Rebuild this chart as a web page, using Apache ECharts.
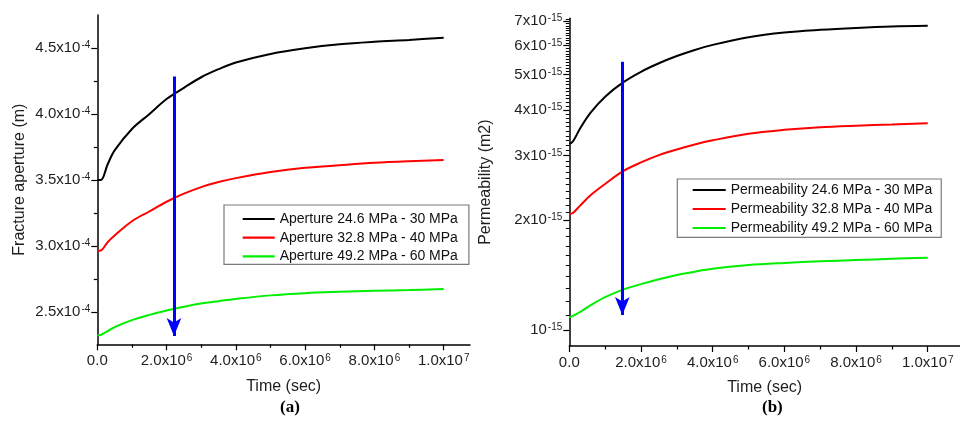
<!DOCTYPE html>
<html>
<head>
<meta charset="utf-8">
<script src="https://cdn.jsdelivr.net/npm/echarts@6/dist/echarts.min.js"></script>
<style>
  html, body { margin: 0; padding: 0; background: #ffffff; }
  #chart { width: 960px; height: 422px; }
</style>
</head>
<body>
<div id="chart"></div>
<script>
// ---- (a) Fracture aperture vs time ----
// time in units of 10^6 s, aperture in units of 10^-4 m
const timeA = [0, 0.1, 0.3, 0.5, 1, 1.5, 2, 2.5, 3, 3.5, 4, 5, 6, 7, 8, 9, 10];
const aperture30 = [3.500, 3.500, 3.620, 3.725, 3.888, 4.000, 4.115, 4.200, 4.280, 4.341, 4.392, 4.457, 4.500, 4.530, 4.549, 4.563, 4.580];
const aperture40 = [2.964, 2.966, 3.030, 3.080, 3.188, 3.262, 3.336, 3.397, 3.447, 3.485, 3.515, 3.561, 3.593, 3.613, 3.631, 3.643, 3.652];
const aperture60 = [2.323, 2.326, 2.355, 2.385, 2.438, 2.478, 2.512, 2.540, 2.564, 2.582, 2.599, 2.626, 2.643, 2.653, 2.661, 2.666, 2.674];
const apertureNames = ['Aperture 24.6 MPa - 30 MPa', 'Aperture 32.8 MPa - 40 MPa', 'Aperture 49.2 MPa - 60 MPa'];

// ---- (b) Permeability vs time ----
// time in units of 10^6 s, permeability in units of 10^-15 m2
const timeB = [0, 0.1, 0.3, 0.6, 1, 1.5, 2, 2.5, 3, 3.5, 4, 5, 6, 7, 8, 9, 10];
const perm30 = [3.23, 3.28, 3.56, 3.94, 4.35, 4.76, 5.09, 5.37, 5.62, 5.84, 6.03, 6.33, 6.52, 6.63, 6.71, 6.77, 6.80];
const perm40 = [2.078, 2.090, 2.190, 2.340, 2.510, 2.720, 2.875, 3.010, 3.120, 3.220, 3.305, 3.445, 3.530, 3.590, 3.625, 3.652, 3.680];
const perm60 = [1.083, 1.093, 1.120, 1.170, 1.230, 1.290, 1.335, 1.377, 1.414, 1.444, 1.470, 1.506, 1.526, 1.541, 1.554, 1.566, 1.577];
const permNames = ['Permeability 24.6 MPa - 30 MPa', 'Permeability 32.8 MPa - 40 MPa', 'Permeability 49.2 MPa - 60 MPa'];

// ---- axis ticks ----
const timeTicks = [0, 2e6, 4e6, 6e6, 8e6, 1e7];
const timeMinorTicks = [1e6, 3e6, 5e6, 7e6, 9e6];
const apertureTicks = [2.5e-4, 3.0e-4, 3.5e-4, 4.0e-4, 4.5e-4];
const apertureMinorTicks = [2.75e-4, 3.25e-4, 3.75e-4, 4.25e-4];
const permTicks = [1e-15, 2e-15, 3e-15, 4e-15, 5e-15, 6e-15, 7e-15];
const permMinorTicks = [];
for (let k = 11; k <= 71; k++) {
  if (k % 10 !== 0) permMinorTicks.push(k / 10 * 1e-15);
}

// "pressure drop" arrows: [time, start value, end value]
const arrowA = [2.214e6, 4.285e-4, 2.318e-4];
const arrowB = [1.479e6, 5.42e-15, 1.099e-15];

const lineColors = ['#000000', '#ff0000', '#00ee00'];
const FONT = "'Liberation Sans', Arial, sans-serif";
const TEXT = '#1e1e1e';

function toPairs(times, vals, scale) {
  return times.map((t, i) => [t * 1e6, vals[i] * scale]);
}

const supX = { fontSize: 10, lineHeight: 10, verticalAlign: 'top', padding: [0, 0, 10, 1], color: TEXT, fontFamily: FONT };
const mainX = { fontSize: 15, lineHeight: 15, verticalAlign: 'bottom', color: TEXT, fontFamily: FONT };
const supY = { fontSize: 10, lineHeight: 10, verticalAlign: 'top', padding: [0, 0, 0, 1], color: TEXT, fontFamily: FONT };
const mainY = { fontSize: 15, lineHeight: 15, color: TEXT, fontFamily: FONT };

function timeLabel(v) {
  if (v === 0) return '{m|0.0}';
  const e = Math.floor(Math.log10(v) + 1e-9);
  const m = v / Math.pow(10, e);
  return '{m|' + m.toFixed(1) + 'x10}{s|' + e + '}';
}
function apertureLabel(v) {
  return '{m|' + (v / 1e-4).toFixed(1) + 'x10}{s|-4}';
}
function permLabel(v) {
  const m = Math.round(v / 1e-15);
  return m === 1 ? '{m|10}{s|-15}' : '{m|' + m + 'x10}{s|-15}';
}

const axisLineStyle = { color: '#000', width: 1.5 };

function mainXAxis(grid, max) {
  return {
    type: 'value', gridIndex: grid, min: 0, max: max,
    name: 'Time (sec)', nameLocation: 'middle', nameGap: 34,
    nameTextStyle: { fontFamily: FONT, fontSize: 16, color: TEXT },
    axisLine: { show: true, onZero: false, lineStyle: axisLineStyle },
    axisTick: { show: true, length: 6, customValues: timeTicks, lineStyle: { color: '#000', width: 1.2 } },
    axisLabel: { customValues: timeTicks, margin: 9, formatter: timeLabel, fontFamily: FONT, fontSize: 15, color: TEXT,
                 rich: { m: mainX, s: supX } },
    splitLine: { show: false }
  };
}
function minorXAxis(grid, max) {
  return {
    type: 'value', gridIndex: grid, min: 0, max: max, position: 'bottom',
    axisLine: { show: false },
    axisTick: { show: true, length: 3.5, customValues: timeMinorTicks, lineStyle: { color: '#000', width: 1.2 } },
    axisLabel: { show: false }, splitLine: { show: false }
  };
}

const option = {
  animation: false,
  backgroundColor: '#ffffff',
  title: [
    { text: '(a)', left: 280, top: 399, padding: 0,
      textStyle: { fontFamily: "'Liberation Serif', 'Times New Roman', serif", fontWeight: 'bold', fontSize: 17, color: '#000' } },
    { text: '(b)', left: 762, top: 399, padding: 0,
      textStyle: { fontFamily: "'Liberation Serif', 'Times New Roman', serif", fontWeight: 'bold', fontSize: 17, color: '#000' } }
  ],
  grid: [
    { left: 97.3, top: 15, width: 372.7, height: 329.3 },
    { left: 569.3, top: 18.3, width: 390.7, height: 327.7 }
  ],
  legend: [
    {
      data: apertureNames, orient: 'vertical', left: 224, top: 205,
      padding: [7, 11, 1, 18.7], itemGap: 4.7, itemWidth: 32, itemHeight: 2.2, icon: 'rect',
      backgroundColor: '#ffffff', borderColor: '#7a7a7a', borderWidth: 1.2, borderRadius: 0,
      textStyle: { fontFamily: FONT, fontSize: 14, lineHeight: 14, color: '#111' }
    },
    {
      data: permNames, orient: 'vertical', left: 677.3, top: 179,
      padding: [4, 9, 2.3, 15.4], itemGap: 5, itemWidth: 33, itemHeight: 2.2, icon: 'rect',
      backgroundColor: '#ffffff', borderColor: '#7a7a7a', borderWidth: 1.2, borderRadius: 0,
      textStyle: { fontFamily: FONT, fontSize: 14, lineHeight: 14, color: '#111' }
    }
  ],
  xAxis: [
    mainXAxis(0, 1.076e7),
    mainXAxis(1, 1.09e7),
    minorXAxis(0, 1.076e7),
    minorXAxis(1, 1.09e7)
  ],
  yAxis: [
    {
      type: 'value', gridIndex: 0, min: 2.255e-4, max: 4.752e-4, position: 'left',
      name: 'Fracture aperture (m)', nameLocation: 'middle', nameGap: 70, nameRotate: 90,
      nameTextStyle: { fontFamily: FONT, fontSize: 16, color: TEXT },
      axisLine: { show: true, onZero: false, lineStyle: axisLineStyle },
      axisTick: { show: true, length: 6, customValues: apertureTicks, lineStyle: { color: '#000', width: 1.2 } },
      axisLabel: { customValues: apertureTicks, margin: 7, formatter: apertureLabel, fontFamily: FONT, fontSize: 15, color: TEXT,
                   rich: { m: mainY, s: supY } },
      splitLine: { show: false }
    },
    {
      type: 'log', logBase: 10, gridIndex: 1, min: 0.904e-15, max: 7.13e-15, position: 'left',
      name: 'Permeability (m2)', nameLocation: 'middle', nameGap: 76, nameRotate: 90,
      nameTextStyle: { fontFamily: FONT, fontSize: 16, color: TEXT },
      axisLine: { show: true, onZero: false, lineStyle: axisLineStyle },
      axisTick: { show: true, length: 6, customValues: permTicks, lineStyle: { color: '#000', width: 1.2 } },
      axisLabel: { customValues: permTicks, margin: 7, formatter: permLabel, fontFamily: FONT, fontSize: 15, color: TEXT,
                   rich: { m: mainY, s: supY } },
      splitLine: { show: false }
    },
    {
      type: 'value', gridIndex: 0, min: 2.255e-4, max: 4.752e-4, position: 'left',
      axisLine: { show: false },
      axisTick: { show: true, length: 3.5, customValues: apertureMinorTicks, lineStyle: { color: '#000', width: 1.2 } },
      axisLabel: { show: false }, splitLine: { show: false }
    },
    {
      type: 'log', logBase: 10, gridIndex: 1, min: 0.904e-15, max: 7.13e-15, position: 'left',
      axisLine: { show: false },
      axisTick: { show: true, length: 3.5, customValues: permMinorTicks, lineStyle: { color: '#000', width: 1 } },
      axisLabel: { show: false }, splitLine: { show: false }
    }
  ],
  series: []
};

function addLine(name, data, color, xi, yi, extra) {
  option.series.push(Object.assign({
    name: name, type: 'line', xAxisIndex: xi, yAxisIndex: yi, data: data,
    showSymbol: false, smooth: 0.35,
    lineStyle: { color: color, width: 2 }, itemStyle: { color: color },
    emphasis: { disabled: true }, z: 3
  }, extra || {}));
}

function arrowMark(arrow) {
  return {
    silent: true, symbol: ['none', 'arrow'], symbolSize: [11, 18],
    lineStyle: { color: '#0000ff', width: 3, type: 'solid' },
    itemStyle: { color: '#0000ff' },
    label: { show: false },
    data: [[{ coord: [arrow[0], arrow[1]] }, { coord: [arrow[0], arrow[2]] }]]
  };
}

const apertureSets = [aperture30, aperture40, aperture60];
const permSets = [perm30, perm40, perm60];
apertureSets.forEach((vals, i) => {
  addLine(apertureNames[i], toPairs(timeA, vals, 1e-4), lineColors[i], 0, 0,
          i === 0 ? { markLine: arrowMark(arrowA) } : null);
});
permSets.forEach((vals, i) => {
  addLine(permNames[i], toPairs(timeB, vals, 1e-15), lineColors[i], 1, 1,
          i === 0 ? { markLine: arrowMark(arrowB) } : null);
});

const chart = echarts.init(document.getElementById('chart'), null, { renderer: 'canvas' });
chart.setOption(option);
</script>
</body>
</html>
